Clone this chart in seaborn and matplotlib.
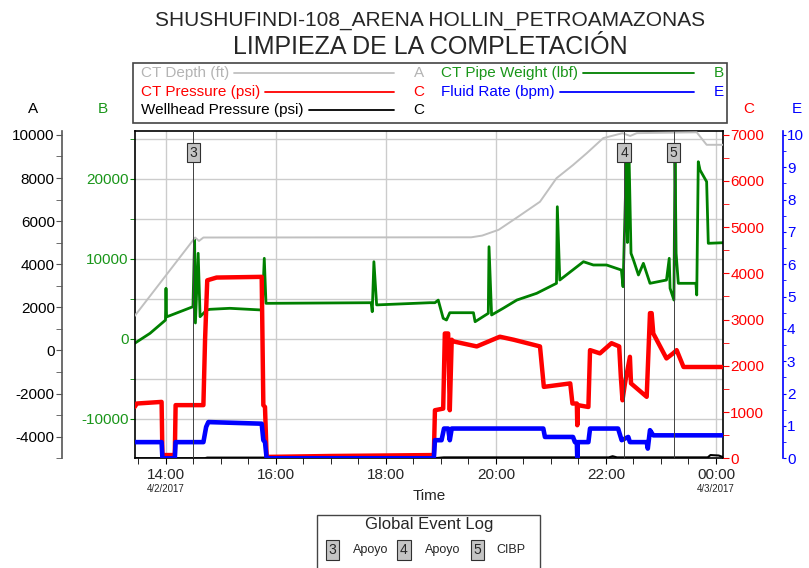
import numpy as np
import pandas as pd
import seaborn as sns
import matplotlib.pyplot as plt
import matplotlib.dates as mdates
from matplotlib.lines import Line2D
from matplotlib.patches import Rectangle
from matplotlib.ticker import MultipleLocator

# Data (time = hours counted from 00:00 on 4/2/2017)
depth_h = [13.43, 14.53, 14.60, 14.68, 19.55, 19.75, 20.05, 20.40, 20.80, 21.10,
           21.40, 21.65, 21.95, 22.30, 22.44, 22.56, 23.65, 23.83, 24.13]
depth_ft = [1600, 5240, 5080, 5240, 5250, 5330, 5600, 6200, 6900, 7990,
            8600, 9150, 9850, 10080, 9950, 10080, 10120, 9540, 9540]

weight_h = [13.43, 13.71, 13.99, 14.00, 14.01, 14.49, 14.52, 14.535, 14.585, 14.62,
            14.74, 14.80, 15.16, 15.75, 15.787, 15.818, 15.89, 17.73, 17.75, 17.78,
            17.83, 18.80, 18.89, 18.95, 19.04, 19.10, 19.16, 19.59, 19.62, 19.86,
            19.873, 19.92, 20.13, 20.38, 20.74, 21.10, 21.115, 21.16, 21.59, 21.77,
            22.01, 22.28, 22.31, 22.37, 22.39, 22.42, 22.455, 22.50, 22.59, 22.68,
            22.80, 23.10, 23.15, 23.165, 23.235, 23.255, 23.275, 23.315, 23.635, 23.65,
            23.678, 23.71, 23.83, 23.86, 24.13]
weight_lbf = [-600, 650, 2300, 6275, 2700, 3975, 12500, 1940, 10650, 2725,
              3560, 3650, 3775, 3560, 10025, 4400, 4400, 4475, 3350, 9600,
              4200, 4475, 4475, 4800, 2525, 2310, 3225, 3225, 2100, 3150,
              11475, 2940, 3775, 4810, 5650, 6900, 16475, 7310, 9600, 9190,
              9190, 8560, 6475, 22100, 12000, 22525, 10650, 9810, 7940, 9400,
              6900, 7310, 10025, 6275, 4810, 23560, 10650, 6900, 6900, 5440,
              22100, 21060, 19600, 11900, 11975]

ctp_h = [13.43, 13.47, 13.92, 13.935, 14.16, 14.175, 14.68, 14.71, 14.75, 14.92,
         15.74, 15.77, 15.80, 15.83, 17.00, 18.87, 18.89, 19.04, 19.07, 19.13,
         19.16, 19.195, 19.22, 19.65, 20.07, 20.32, 20.80, 20.87, 21.35, 21.39,
         21.47, 21.478, 21.49, 21.68, 21.71, 21.89, 22.10, 22.24, 22.27, 22.30,
         22.345, 22.435, 22.455, 22.74, 22.80, 22.83, 22.86, 23.10, 23.22, 23.285,
         23.41, 24.13]
ctp_psi = [1110, 1185, 1220, 70, 70, 1150, 1150, 2555, 3850, 3910,
           3925, 1150, 1110, 30, 50, 70, 1040, 1075, 2700, 2700,
           1040, 2565, 2530, 2420, 2630, 2565, 2420, 1545, 1620, 1185,
           1185, 715, 1150, 1110, 2340, 2270, 2490, 2420, 1765, 1255,
           1620, 2195, 1620, 1330, 3140, 3140, 2700, 2160, 2270, 2340,
           1975, 1975]

rate_h = [13.43, 13.92, 13.935, 14.16, 14.175, 14.68, 14.73, 14.77, 15.74, 15.77,
          15.80, 15.83, 18.87, 18.89, 19.01, 19.055, 19.13, 19.16, 19.195, 20.86,
          20.89, 21.40, 21.435, 21.47, 21.478, 21.487, 21.68, 21.71, 22.22, 22.285,
          22.405, 22.435, 22.74, 22.76, 22.80, 22.86, 24.13]
rate_bpm = [0.5, 0.5, 0.0, 0.0, 0.5, 0.5, 0.97, 1.12, 1.07, 0.56,
            0.5, 0.0, 0.0, 0.56, 0.56, 0.92, 0.92, 0.56, 0.92, 0.92,
            0.66, 0.66, 0.5, 0.5, 0.0, 0.5, 0.5, 0.92, 0.92, 0.56,
            0.66, 0.5, 0.5, 0.3, 0.87, 0.71, 0.71]

whp_h = [13.43, 14.70, 14.75, 15.80, 15.85, 18.90, 19.05, 22.05, 22.12, 22.20,
         23.85, 23.90, 24.05, 24.13]
whp_psi = [0, 0, 15, 15, 5, 5, 20, 20, 45, 20, 20, 70, 60, 25]

event_ids = ["3", "4", "5"]
event_names = ["Apoyo", "Apoyo", "CIBP"]
event_h = [14.50, 22.33, 23.23]

legend_labels = ["CT Depth (ft)", "CT Pipe Weight (lbf)", "CT Pressure (psi)",
                 "Fluid Rate (bpm)", "Wellhead Pressure (psi)"]
legend_axes = ["A", "B", "C", "E", "C"]

title1 = "SHUSHUFINDI-108_ARENA HOLLIN_PETROAMAZONAS"
title2 = "LIMPIEZA DE LA COMPLETACIÓN"

day0 = pd.Timestamp("2017-04-02")


def to_time(h):
    return pd.Series(day0 + pd.to_timedelta(np.array(h), unit="h"))


GRAY = "#c0c0c0"
GREEN = "#008000"
GREEN_TXT = "#1a961a"
RED = "#ff0000"
BLUE = "#0000ff"
BLACK = "#000000"

sns.set_style("ticks")
plt.rcParams['font.family'] = ['Liberation Sans', 'DejaVu Sans']
plt.rcParams['axes.unicode_minus'] = False

W, H = 809, 568
fig = plt.figure(figsize=(W / 100, H / 100), dpi=100)


def fx(px):
    return px / W


def fy(py):
    return 1 - py / H


left, right, top, bottom = 134.7, 723.3, 131.0, 458.3
ax = fig.add_axes([fx(left), fy(bottom), (right - left) / W, (bottom - top) / H])
axA = ax.twinx()
axC = ax.twinx()
axE = ax.twinx()

kw = dict(estimator=None, sort=False, legend=False)
sns.lineplot(x=to_time(weight_h), y=weight_lbf, ax=ax, color=GREEN, lw=2.0, **kw)
sns.lineplot(x=to_time(depth_h), y=depth_ft, ax=axA, color=GRAY, lw=1.4, **kw)
sns.lineplot(x=to_time(ctp_h), y=ctp_psi, ax=axC, color=RED, lw=3.2, **kw)
sns.lineplot(x=to_time(whp_h), y=whp_psi, ax=axC, color=BLACK, lw=1.5, **kw)
sns.lineplot(x=to_time(rate_h), y=rate_bpm, ax=axE, color=BLUE, lw=3.3, **kw)

for a in (ax, axA, axC, axE):
    a.set_xlabel("")
    a.set_ylabel("")

ax.set_xlim(to_time([13.431])[0], to_time([24.133])[0])
ax.set_ylim(-14975, 25940)
axA.set_ylim(-5000, 10180)
axC.set_ylim(0, 7080)
axE.set_ylim(0, 10.12)

# x axis
ax.xaxis.set_major_locator(mdates.HourLocator(byhour=range(0, 24, 2)))
ax.xaxis.set_minor_locator(mdates.MinuteLocator(byminute=[0, 30]))
ax.xaxis.set_major_formatter(mdates.DateFormatter('%H:%M'))
ax.tick_params(axis='x', which='both', direction='out', length=4, pad=3,
               labelsize=11, color='black')
ax.set_xlabel("Time", fontsize=11)
ax.xaxis.set_label_coords(0.5, -0.095)

xlo, xhi = ax.get_xlim()
locs = [l for l in ax.xaxis.get_majorticklocs() if xlo <= l <= xhi]
for i, loc in enumerate(locs):
    d = mdates.num2date(loc)
    if i == 0 or d.hour == 0:
        ax.annotate(f"{d.month}/{d.day}/{d.year}", xy=(loc, 0),
                    xycoords=ax.get_xaxis_transform(), xytext=(0, -22),
                    textcoords='offset points', ha='center', va='center', fontsize=7)

# grid
ax.yaxis.grid(True, which='both', color='#cccccc', lw=1)
ax.xaxis.grid(True, which='major', color='#cccccc', lw=1)

for s in ax.spines.values():
    s.set_color('black')
    s.set_linewidth(1.2)

# B axis (main, left)
ax.yaxis.set_major_locator(MultipleLocator(10000))
ax.yaxis.set_minor_locator(MultipleLocator(5000))
ax.tick_params(axis='y', which='both', colors=GREEN, labelcolor=GREEN_TXT,
               length=3.5, pad=1, labelsize=11)

# A axis (offset left)
for s in axA.spines.values():
    s.set_visible(False)
axA.spines['left'].set_visible(True)
axA.spines['left'].set_position(('axes', -0.124))
axA.spines['left'].set_color('#555555')
axA.spines['left'].set_linewidth(1.2)
axA.yaxis.set_ticks_position('left')
axA.yaxis.set_major_locator(MultipleLocator(2000))
axA.yaxis.set_minor_locator(MultipleLocator(1000))
axA.tick_params(axis='y', which='both', colors='#555555', labelcolor='black',
                length=4, pad=1, labelsize=11)

# C axis (right)
for s in axC.spines.values():
    s.set_visible(False)
axC.yaxis.set_major_locator(MultipleLocator(1000))
axC.yaxis.set_minor_locator(MultipleLocator(500))
axC.tick_params(axis='y', which='both', colors=RED, labelcolor=RED,
                length=4, pad=1, labelsize=11)

# E axis (offset right)
for s in axE.spines.values():
    s.set_visible(False)
axE.spines['right'].set_visible(True)
axE.spines['right'].set_position(('axes', 1.101))
axE.spines['right'].set_color(BLUE)
axE.spines['right'].set_linewidth(1.2)
axE.yaxis.set_major_locator(MultipleLocator(1))
axE.yaxis.set_minor_locator(MultipleLocator(0.5))
axE.tick_params(axis='y', which='both', colors=BLUE, labelcolor=BLUE,
                length=2.5, pad=0.5, labelsize=11)

# events
box = dict(boxstyle='square,pad=0.2', fc='#c4c4c4', ec='#303030', lw=0.8)
for eid, t in zip(event_ids, to_time(event_h)):
    axE.axvline(t, color='#404040', lw=0.7)
    axE.text(t, 0.934, eid, transform=axE.get_xaxis_transform(), ha='center',
             va='center', fontsize=10, bbox=box)

# axis letters
for letter, px, col in [("A", 33, 'black'), ("B", 103, GREEN_TXT),
                        ("C", 749, RED), ("E", 797, BLUE)]:
    fig.text(fx(px), fy(109), letter, ha='center', va='center', fontsize=11, color=col)

# titles
fig.text(fx(430), fy(20), title1, ha='center', va='center', fontsize=15)
fig.text(fx(430), fy(47), title2, ha='center', va='center', fontsize=18)

# legend box
fig.add_artist(Rectangle((fx(133), fy(123)), (727 - 133) / W, 60 / H,
                         transform=fig.transFigure, fill=False, ec='#444444', lw=1.2))
leg_colors = ["#b4b4b4", GREEN_TXT, RED, BLUE, BLACK]
line_colors = [GRAY, GREEN, RED, BLUE, BLACK]
slots = [(0, 73), (1, 73), (0, 92), (1, 92), (0, 110)]
renderer = fig.canvas.get_renderer()
for lab, letter, tc, lc, (c, py) in zip(legend_labels, legend_axes, leg_colors,
                                        line_colors, slots):
    x0 = 141 if c == 0 else 441
    xend = 394 if c == 0 else 694
    xl = 419 if c == 0 else 719
    t = fig.text(fx(x0), fy(py), lab, ha='left', va='center', fontsize=11, color=tc)
    bb = t.get_window_extent(renderer=renderer)
    fig.add_artist(Line2D([(bb.x1 + 5) / W, fx(xend)], [fy(py), fy(py)],
                          transform=fig.transFigure, color=lc, lw=1.3))
    fig.text(fx(xl), fy(py), letter, ha='center', va='center', fontsize=11, color=tc)

# global event log
fig.add_artist(Rectangle((fx(317), fy(575)), (540 - 317) / W, 60 / H,
                         transform=fig.transFigure, fill=False, ec='#444444', lw=1.0))
fig.text(fx(429), fy(525), "Global Event Log", ha='center', va='center', fontsize=12)
bx = [332.5, 404, 477.5]
nx = [352.7, 425, 496.7]
for eid, name, b, n in zip(event_ids, event_names, bx, nx):
    fig.text(fx(b), fy(550), eid, ha='center', va='center', fontsize=10, bbox=box)
    fig.text(fx(n), fy(550), name, ha='left', va='center', fontsize=9)

fig.savefig("out.png", dpi=100)
